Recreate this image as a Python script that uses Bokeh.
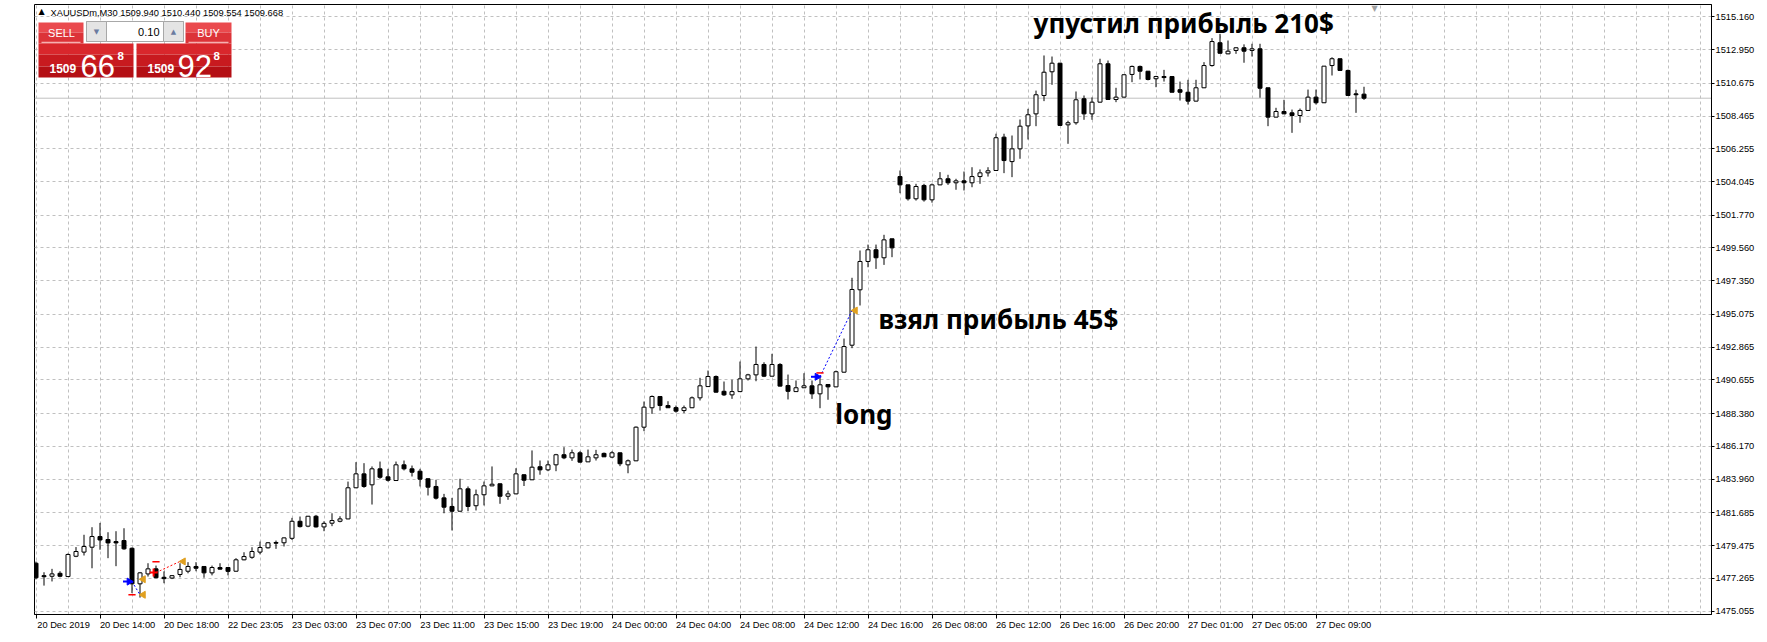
import numpy as np
from bokeh.plotting import figure
from bokeh.models import (Range1d, FixedTicker, PrintfTickFormatter, CustomJSTickFormatter,
                          Label, BoxAnnotation, Span, ColumnDataSource)
from bokeh.embed import file_html
from bokeh.resources import INLINE

# ---------------- data (XAUUSDm, M30) ----------------
opens = [
    1478.29, 1477.45, 1477.41, 1477.61, 1477.39, 1478.76, 1479.04, 1479.37, 1480.09, 1479.89,
    1479.75, 1479.82, 1479.30, 1476.90, 1477.57, 1477.91, 1477.34, 1477.29, 1477.53, 1477.75,
    1478.07, 1478.07, 1477.64, 1478.00, 1478.00, 1477.75, 1478.52, 1478.69, 1479.04, 1479.33,
    1479.69, 1479.67, 1479.97, 1481.12, 1480.79, 1481.46, 1480.74, 1480.99, 1481.12, 1481.28,
    1483.38, 1484.32, 1483.58, 1484.66, 1484.12, 1483.87, 1484.93, 1484.66, 1484.50, 1483.99,
    1483.47, 1482.70, 1482.12, 1481.80, 1483.31, 1482.17, 1482.91, 1483.51, 1483.65, 1482.81,
    1482.97, 1484.26, 1483.92, 1484.80, 1484.59, 1484.93, 1485.61, 1485.40, 1485.74, 1485.13,
    1485.40, 1485.70, 1485.45, 1485.74, 1484.93, 1485.20, 1487.47, 1488.78, 1489.54, 1488.93,
    1488.79, 1488.59, 1488.78, 1489.45, 1490.21, 1490.89, 1489.89, 1489.65, 1489.87, 1490.73,
    1491.00, 1491.70, 1490.91, 1491.70, 1490.28, 1489.87, 1490.13, 1490.26, 1489.72, 1490.35,
    1490.19, 1491.18, 1493.00, 1496.74, 1498.65, 1499.44, 1498.90, 1500.18, 1504.38, 1503.82,
    1502.88, 1503.78, 1502.81, 1503.82, 1504.23, 1503.96, 1504.09, 1503.96, 1504.38, 1504.63,
    1504.79, 1507.04, 1505.39, 1506.25, 1507.80, 1508.61, 1509.85, 1511.45, 1512.03, 1507.87,
    1508.01, 1509.63, 1508.61, 1509.40, 1511.99, 1509.58, 1509.74, 1511.27, 1511.81, 1511.49,
    1510.98, 1511.13, 1511.13, 1510.24, 1510.07, 1509.47, 1510.37, 1511.87, 1513.41, 1512.66,
    1512.89, 1513.07, 1512.89, 1513.00, 1510.37, 1508.39, 1508.77, 1508.68, 1508.50, 1508.84,
    1509.74, 1509.36, 1511.87, 1512.33, 1511.54, 1509.96, 1509.94,
]
highs = [
    1478.40, 1477.68, 1477.91, 1477.75, 1478.95, 1479.38, 1480.21, 1480.72, 1481.01, 1480.38,
    1480.45, 1480.65, 1479.35, 1477.70, 1478.29, 1478.13, 1477.74, 1477.48, 1478.29, 1478.36,
    1478.36, 1478.10, 1478.13, 1478.29, 1478.02, 1478.63, 1479.03, 1479.37, 1479.75, 1479.72,
    1479.82, 1480.02, 1481.35, 1481.44, 1481.48, 1481.55, 1481.12, 1481.66, 1481.46, 1483.80,
    1485.11, 1485.04, 1484.82, 1485.15, 1484.66, 1485.15, 1485.22, 1484.88, 1484.66, 1484.01,
    1483.92, 1482.97, 1482.70, 1483.99, 1483.47, 1483.26, 1483.80, 1484.82, 1483.67, 1483.19,
    1484.70, 1484.28, 1485.90, 1485.22, 1485.22, 1485.67, 1486.12, 1485.96, 1485.85, 1485.96,
    1485.94, 1485.76, 1485.85, 1485.76, 1485.29, 1487.52, 1489.20, 1489.61, 1489.56, 1489.22,
    1488.93, 1488.93, 1489.54, 1490.80, 1491.29, 1490.96, 1490.55, 1490.67, 1491.90, 1491.07,
    1492.91, 1491.85, 1492.42, 1491.79, 1491.02, 1490.62, 1491.11, 1490.62, 1490.84, 1490.37,
    1491.29, 1493.45, 1497.55, 1499.39, 1499.79, 1499.79, 1500.45, 1500.18, 1504.79, 1503.82,
    1503.89, 1503.89, 1503.91, 1504.68, 1504.50, 1504.23, 1504.72, 1505.01, 1504.86, 1505.01,
    1507.27, 1507.27, 1507.15, 1508.23, 1508.95, 1510.18, 1512.55, 1512.48, 1512.05, 1508.15,
    1510.12, 1509.85, 1509.72, 1512.33, 1512.21, 1510.37, 1511.27, 1511.87, 1511.87, 1511.49,
    1511.18, 1511.58, 1511.13, 1510.79, 1510.91, 1510.91, 1512.10, 1513.72, 1514.01, 1513.56,
    1513.10, 1513.30, 1513.34, 1513.34, 1510.37, 1509.02, 1509.56, 1508.90, 1508.97, 1510.25,
    1510.25, 1511.83, 1512.43, 1512.33, 1511.60, 1510.24, 1510.44,
]
lows = [
    1477.20, 1476.78, 1477.06, 1477.34, 1477.36, 1478.70, 1478.81, 1477.95, 1479.20, 1478.63,
    1478.09, 1479.20, 1476.27, 1475.97, 1477.39, 1477.28, 1476.94, 1477.22, 1477.34, 1477.61,
    1477.75, 1477.31, 1477.47, 1477.87, 1477.47, 1477.73, 1478.49, 1478.59, 1478.89, 1479.28,
    1479.26, 1479.42, 1479.86, 1480.70, 1480.72, 1480.70, 1480.45, 1480.79, 1481.05, 1481.26,
    1483.36, 1483.38, 1482.25, 1483.99, 1483.80, 1483.85, 1484.55, 1484.14, 1483.47, 1482.86,
    1482.59, 1481.66, 1480.50, 1481.78, 1481.80, 1481.85, 1482.19, 1483.49, 1482.30, 1482.57,
    1482.95, 1483.50, 1483.90, 1484.26, 1484.50, 1484.50, 1485.31, 1485.20, 1485.08, 1485.13,
    1485.22, 1485.47, 1485.38, 1484.84, 1484.36, 1485.18, 1487.20, 1488.37, 1488.59, 1488.78,
    1488.45, 1488.42, 1488.76, 1489.27, 1490.19, 1489.81, 1489.58, 1489.38, 1489.85, 1490.62,
    1490.57, 1490.85, 1490.89, 1490.22, 1489.34, 1489.85, 1490.11, 1489.38, 1488.75, 1489.32,
    1490.17, 1491.16, 1492.80, 1495.68, 1498.26, 1498.15, 1498.42, 1498.94, 1503.26, 1502.76,
    1502.76, 1502.69, 1502.62, 1503.80, 1503.82, 1503.49, 1503.44, 1503.66, 1503.89, 1504.38,
    1504.77, 1504.61, 1504.34, 1505.58, 1506.88, 1507.78, 1509.47, 1510.57, 1507.80, 1506.59,
    1507.88, 1508.21, 1508.21, 1509.38, 1509.56, 1509.40, 1509.72, 1510.75, 1510.93, 1510.87,
    1510.41, 1510.79, 1510.07, 1509.51, 1509.24, 1509.45, 1510.35, 1511.80, 1512.68, 1512.64,
    1512.66, 1512.06, 1512.48, 1509.70, 1507.78, 1508.37, 1508.61, 1507.33, 1508.01, 1508.82,
    1509.24, 1509.34, 1511.20, 1511.52, 1509.83, 1508.68, 1509.554,
]
closes = [
    1477.31, 1477.38, 1477.57, 1477.41, 1478.88, 1479.08, 1479.42, 1480.09, 1479.86, 1479.66,
    1479.66, 1479.26, 1476.90, 1477.64, 1477.91, 1477.31, 1477.25, 1477.45, 1477.87, 1478.07,
    1477.95, 1477.64, 1478.00, 1477.89, 1477.74, 1478.52, 1478.74, 1479.08, 1479.35, 1479.67,
    1479.64, 1480.00, 1481.12, 1480.76, 1481.46, 1480.74, 1480.98, 1481.17, 1481.28, 1483.38,
    1484.32, 1483.47, 1484.66, 1484.09, 1483.89, 1484.93, 1484.66, 1484.43, 1483.96, 1483.42,
    1482.68, 1482.07, 1481.80, 1483.31, 1482.12, 1482.91, 1483.51, 1483.62, 1482.81, 1482.97,
    1484.32, 1483.89, 1484.77, 1484.59, 1484.93, 1485.61, 1485.40, 1485.74, 1485.11, 1485.47,
    1485.61, 1485.47, 1485.74, 1485.00, 1485.20, 1487.47, 1488.82, 1489.54, 1488.93, 1488.78,
    1488.55, 1488.78, 1489.45, 1490.26, 1490.89, 1489.83, 1489.65, 1489.87, 1490.73, 1491.00,
    1491.70, 1490.91, 1491.70, 1490.24, 1489.89, 1490.13, 1490.26, 1489.72, 1490.33, 1490.19,
    1491.21, 1492.91, 1496.76, 1498.65, 1499.44, 1498.90, 1500.11, 1499.57, 1503.82, 1502.88,
    1503.71, 1502.81, 1503.82, 1504.23, 1503.96, 1504.09, 1503.96, 1504.38, 1504.63, 1504.77,
    1507.00, 1505.46, 1506.25, 1507.78, 1508.55, 1509.90, 1511.42, 1512.03, 1507.83, 1508.01,
    1509.56, 1508.61, 1509.40, 1511.99, 1509.58, 1509.74, 1511.25, 1511.81, 1511.49, 1510.93,
    1511.13, 1511.06, 1510.07, 1510.07, 1509.47, 1510.37, 1511.87, 1513.49, 1512.70, 1512.84,
    1513.07, 1512.84, 1513.00, 1510.34, 1508.39, 1508.77, 1508.61, 1508.50, 1508.84, 1509.74,
    1509.36, 1511.83, 1512.33, 1511.54, 1509.85, 1509.90, 1509.668,
]

x_labels = ["20 Dec 2019", "20 Dec 14:00", "20 Dec 18:00", "22 Dec 23:05", "23 Dec 03:00",
            "23 Dec 07:00", "23 Dec 11:00", "23 Dec 15:00", "23 Dec 19:00", "24 Dec 00:00",
            "24 Dec 04:00", "24 Dec 08:00", "24 Dec 12:00", "24 Dec 16:00", "26 Dec 08:00",
            "26 Dec 12:00", "26 Dec 16:00", "26 Dec 20:00", "27 Dec 01:00", "27 Dec 05:00",
            "27 Dec 09:00"]
y_ticks = [1475.055, 1477.265, 1479.475, 1481.685, 1483.960, 1486.170, 1488.380, 1490.655,
           1492.865, 1495.075, 1497.350, 1499.560, 1501.770, 1504.045, 1506.255, 1508.465,
           1510.675, 1512.950, 1515.160]
last_price = 1509.668
bar_open, bar_high, bar_low, bar_close = 1509.940, 1510.440, 1509.554, 1509.668

# trades drawn by the terminal
trade_side = ["buy", "sell", "buy"]
trade_open_bar = [12, 15, 98]
trade_open_price = [1477.05, 1477.66, 1490.87]
trade_close_bar = [13, 18, 102]
trade_close_price = [1476.16, 1478.41, 1495.34]
stop_bar = [12, 15, 98]
stop_price = [1476.16, 1478.39, 1491.13]
exit_bar = [13, 13, 18, 102]
exit_price = [1477.21, 1476.16, 1478.41, 1495.34]

# text objects placed on the chart (anchored at bar / price like the terminal does)
note_text = ["упустил прибыль 210$", "взял прибыль 45$", "long"]
note_bar = [124.7, 105.3, 99.9]
note_price = [1514.71, 1494.80, 1488.38]

# ---------------- figure ----------------
FX0, FY0 = 34, 614      # page position of the plot frame's left / bottom edge


def sx(px):
    return px - FX0


def sy(py):
    return FY0 - py


p = figure(width=1767, height=640, x_range=Range1d(-0.1875, 209.4375),
           y_range=Range1d(1474.830, 1515.990), output_backend="svg", toolbar_location=None,
           x_axis_location="below", y_axis_location="right",
           min_border_left=34, min_border_right=56, min_border_top=4, min_border_bottom=26,
           background_fill_color="white", border_fill_color="white",
           outline_line_color="black", outline_line_width=1)

AX_FONT = "Liberation Sans"

# x axis
p.xaxis.axis_label = None
p.xaxis.ticker = FixedTicker(ticks=[8 * k + 3.45 for k in range(len(x_labels))],
                             minor_ticks=[8 * k for k in range(len(x_labels))])
p.xaxis.formatter = CustomJSTickFormatter(
    args=dict(labels=x_labels),
    code="const i = Math.round((tick - 3.45) / 8); return (i >= 0 && i < labels.length) ? labels[i] : '';")
p.xaxis.major_tick_line_color = None
p.xaxis.major_tick_out = 0
p.xaxis.major_tick_in = 0
p.xaxis.minor_tick_line_color = "black"
p.xaxis.minor_tick_out = 4
p.xaxis.minor_tick_in = 0
p.xaxis.major_label_standoff = 1
p.xaxis.major_label_text_font = AX_FONT
p.xaxis.major_label_text_font_size = "9.3px"
p.xaxis.major_label_text_color = "black"
p.xaxis.axis_line_color = "black"

# y axis (right)
p.yaxis.axis_label = None
p.yaxis.ticker = FixedTicker(ticks=y_ticks)
p.yaxis.formatter = PrintfTickFormatter(format="%.3f")
p.yaxis.major_tick_out = 3
p.yaxis.major_tick_in = 0
p.yaxis.minor_tick_line_color = None
p.yaxis.major_label_standoff = 1
p.yaxis.major_label_text_font = AX_FONT
p.yaxis.major_label_text_font_size = "9.3px"
p.yaxis.major_label_text_color = "black"
p.yaxis.axis_line_color = "black"

# grids
p.xgrid.ticker = FixedTicker(ticks=list(range(0, 212, 4)))
for g in (p.xgrid, p.ygrid):
    g.grid_line_color = "#c0c0c0"
    g.grid_line_dash = "3 3"
    g.grid_line_width = 1

# current price line
p.add_layout(Span(location=last_price, dimension="width", line_color="#c0c0c0",
                  line_width=1, level="underlay"))

# ---------------- candles ----------------
idx = np.arange(len(opens))
o = np.array(opens)
c = np.array(closes)
src = ColumnDataSource(dict(
    x=idx, top=np.maximum(o, c), bottom=np.minimum(o, c),
    high=np.array(highs), low=np.array(lows),
    fill=np.where(c >= o, "white", "black")))
p.segment(x0="x", y0="low", x1="x", y1="high", source=src, line_color="black", line_width=1)
p.vbar(x="x", width=0.5, top="top", bottom="bottom", source=src,
       fill_color="fill", line_color="black", line_width=1)

# ---------------- trades ----------------
t_col = ["#0000ff" if s == "buy" else "#ff0000" for s in trade_side]
tsrc = ColumnDataSource(dict(x0=trade_open_bar, y0=trade_open_price,
                             x1=trade_close_bar, y1=trade_close_price, color=t_col))
p.segment(x0="x0", y0="y0", x1="x1", y1="y1", source=tsrc, line_color="color",
          line_dash="2 2", line_width=1)

buy_x = np.array([b for b, s in zip(trade_open_bar, trade_side) if s == "buy"], dtype=float)
buy_y = [pr for pr, s in zip(trade_open_price, trade_side) if s == "buy"]
sell_x = np.array([b for b, s in zip(trade_open_bar, trade_side) if s == "sell"], dtype=float)
sell_y = [pr for pr, s in zip(trade_open_price, trade_side) if s == "sell"]
p.scatter(buy_x - 0.75, buy_y, marker="dash", size=6, line_color="#0000ff", line_width=2)
p.scatter(buy_x - 0.35, buy_y, marker="triangle", angle=-np.pi / 2, size=7,
          fill_color="#0000ff", line_color="#0000ff")
p.scatter(sell_x - 0.3, sell_y, marker="cross", size=8, line_color="#ff0000", line_width=2)

sb = np.array(stop_bar, dtype=float)
p.segment(x0=sb - 0.45, y0=stop_price, x1=sb + 0.45, y1=stop_price,
          line_color="#ff0000", line_width=1.5)
p.scatter(np.array(exit_bar, dtype=float) + 0.4, exit_price, marker="triangle",
          angle=np.pi / 2, size=7, fill_color="#e0a020", line_color="#e0a020")

# chart text objects
for t, b, pr in zip(note_text, note_bar, note_price):
    p.add_layout(Label(x=b, y=pr, x_units="data", y_units="data", text=t,
                       text_font="Noto Sans", text_font_size="26px", text_font_style="bold",
                       text_color="black", text_align="left", text_baseline="middle"))


# ---------------- helpers for screen-positioned decorations ----------------
def add_label(text, px, py, size, color="white", align="left", baseline="alphabetic",
              bold=False, font="Liberation Sans", bg=None):
    p.add_layout(Label(x=sx(px), y=sy(py), x_units="screen", y_units="screen", text=text,
                       text_font=font, text_font_size=f"{size}px", text_color=color,
                       text_align=align, text_baseline=baseline,
                       text_font_style="bold" if bold else "normal",
                       background_fill_color=bg))


def add_box(x0, x1, y0, y1, color, line=None):
    p.add_layout(BoxAnnotation(left=sx(x0), right=sx(x1), top=sy(y0), bottom=sy(y1),
                               left_units="screen", right_units="screen",
                               top_units="screen", bottom_units="screen",
                               fill_color=color, fill_alpha=1,
                               line_color=line if line else "white",
                               line_alpha=1 if line else 0, line_width=1))


# price tag on the right scale
p.add_layout(Label(x=sx(1713), y=last_price, x_units="screen", y_units="data",
                   text=f"{last_price:.3f}", text_font=AX_FONT, text_font_size="9.3px",
                   text_color="white", text_baseline="middle", background_fill_color="black"))

# header line
add_label("▲", 41, 11, 8, color="black", align="center", baseline="middle", font="DejaVu Sans")
add_label(f"XAUUSDm,M30  {bar_open:.3f} {bar_high:.3f} {bar_low:.3f} {bar_close:.3f}",
          50, 12.5, 9.3, color="black")

# one-click trading panel
for x0, x1 in ((38, 83), (185, 231)):
    add_box(x0, x1, 22, 32, "#ea4a4e")
    add_box(x0, x1, 32, 43, "#dc3338")
    add_box(x0 + 3, x1 - 3, 41.2, 42.4, "#f6b0b0")
for x0, x1 in ((38, 133), (136, 231)):
    add_box(x0, x1, 43, 54, "#d9272c")
    add_box(x0, x1, 54, 66, "#c81a1f")
    add_box(x0, x1, 66, 77, "#b40f14")
add_box(86, 183, 21, 41, "white", line="#a8a8a8")
add_box(86, 106, 21, 41, "#e4e4e4", line="#a8a8a8")
add_box(163, 183, 21, 41, "#e4e4e4", line="#a8a8a8")
add_label("▼", 96, 31, 7, color="#6a7ba0", align="center", baseline="middle", font="DejaVu Sans")
add_label("▲", 173, 31, 7, color="#6a7ba0", align="center", baseline="middle", font="DejaVu Sans")
add_label("0.10", 159, 31.5, 11, color="black", align="right", baseline="middle")
add_label("SELL", 61, 32, 11, align="center", baseline="middle")
add_label("BUY", 208, 32, 11, align="center", baseline="middle")

bid, ask = "1509.668", "1509.928"
add_label(bid[:4], 49, 68, 12, bold=True)
add_label(bid[5:7], 80, 65.7, 31)
add_label(bid[7], 117, 55.7, 11.5, bold=True)
add_label(ask[:4], 147, 68, 12, bold=True)
add_label(ask[5:7], 177, 65.7, 31)
add_label(ask[7], 213, 55.7, 11.5, bold=True)

# chart-shift marker
add_label("▼", 1374, 8, 8, color="#a0a0a0", align="center", baseline="middle", font="DejaVu Sans")

open("out.html", "w").write(file_html(p, INLINE))
